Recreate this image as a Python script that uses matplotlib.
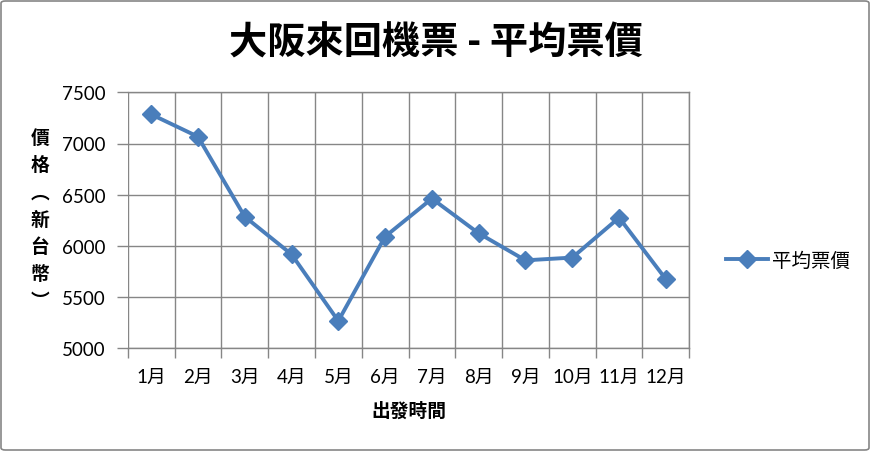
import matplotlib
matplotlib.use("Agg")
import matplotlib.pyplot as plt
from matplotlib.patches import FancyBboxPatch
from matplotlib.lines import Line2D

### Data
months = ['1月', '2月', '3月', '4月', '5月', '6月', '7月', '8月', '9月', '10月', '11月', '12月']
avg_price = [7285, 7067, 6286, 5918, 5267, 6091, 6462, 6123, 5859, 5886, 6276, 5674]
y_ticks = [5000, 5500, 6000, 6500, 7000, 7500]

title = '大阪來回機票 - 平均票價'
ylabel = '價格︵新台幣︶'
xlabel = '出發時間'
series_name = '平均票價'

cjk = ['Noto Sans CJK TC', 'DejaVu Sans']
num = ['Lato', 'Noto Sans CJK TC', 'DejaVu Sans']
blue = '#4A7EBB'
grid_c = '#868686'

fig = plt.figure(figsize=(8.71, 4.52), dpi=100)
ax = fig.add_axes([127.7 / 871, 1 - 349.3 / 452, (689.3 - 127.7) / 871, (349.3 - 93.3) / 452])

x = [i + 0.5 for i in range(len(months))]
ax.plot(x, avg_price, color=blue, lw=2.8, marker='D', markersize=9.5,
        markerfacecolor=blue, markeredgecolor=blue, zorder=3)

ax.set_xlim(0, len(months))
ax.set_ylim(y_ticks[0], y_ticks[-1])

# category boundaries -> ticks + vertical grid, labels at centres
ax.set_xticks(range(len(months) + 1))
ax.set_xticklabels([])
ax.set_xticks(x, minor=True)
ax.set_xticklabels(months, minor=True, family=num, fontsize=13.5)
ax.tick_params(axis='x', which='major', direction='out', length=7, width=1, color=grid_c)
ax.tick_params(axis='x', which='minor', length=0, pad=14)

ax.set_yticks(y_ticks)
ax.set_yticklabels([str(v) for v in y_ticks], family=num, fontsize=13.5)
ax.tick_params(axis='y', direction='out', length=8, width=1, color=grid_c, pad=8)

ax.grid(True, which='major', color=grid_c, lw=1)
ax.set_axisbelow(True)
for side in ['top', 'bottom', 'right']:
    ax.spines[side].set_color(grid_c)
    ax.spines[side].set_linewidth(1)
ax.spines['left'].set_visible(False)

# titles
fig.text(0.5, 1 - 43 / 452, title, ha='center', va='center', fontsize=27.5,
         fontweight='bold', family=cjk)
fig.text((127.7 + 689.3) / 2 / 871, 1 - 411 / 452, xlabel, ha='center', va='center',
         fontsize=13.5, fontweight='bold', family=cjk)
fig.text(40 / 871, 1 - 220 / 452, '\n'.join(ylabel), ha='center', va='center',
         fontsize=13.5, fontweight='bold', family=cjk, linespacing=1.55)

# legend
handle = Line2D([], [], color=blue, lw=2.8, marker='D', markersize=9.5,
                markerfacecolor=blue, markeredgecolor=blue)
fig.legend([handle], [series_name], loc='center left', bbox_to_anchor=(708 / 871, 1 - 261 / 452),
           frameon=False, prop={'family': cjk, 'size': 14}, handlelength=2.2,
           handletextpad=0.2)

# chart border
border = FancyBboxPatch((1 / 871, 1 / 452), 1 - 3 / 871, 1 - 3 / 452,
                        boxstyle='round,pad=0,rounding_size=0.005', transform=fig.transFigure,
                        fill=False, edgecolor=grid_c, lw=1.2)
fig.patches.append(border)

plt.savefig('out.png', dpi=100)
